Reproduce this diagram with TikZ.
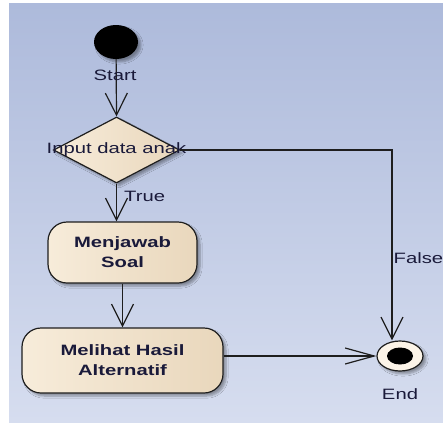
\documentclass[tikz,border=0pt]{standalone}
\usepackage{fontspec}
\setmainfont{Liberation Sans}[FakeStretch=1.35]
\usetikzlibrary{arrows.meta,shapes.geometric,shadows.blur}

\definecolor{bgtop}{HTML}{ADBADB}
\definecolor{bgbot}{HTML}{D6DDEF}
\definecolor{creamL}{HTML}{F7ECDA}
\definecolor{creamM}{HTML}{FCF4E8}
\definecolor{creamR}{HTML}{E9D7BC}
\definecolor{ink}{HTML}{1E1E1E}
\definecolor{txt}{HTML}{1A1A3A}

\tikzset{
  flow/.style={draw=ink, line width=1.2pt},
  vtip/.style={-{Straight Barb[length=22pt,width=22pt,line width=1.2pt]}},
  htip/.style={-{Straight Barb[length=29pt,width=16pt,line width=1.2pt]}},
  softshadow/.style={blur shadow={shadow xshift=3pt, shadow yshift=-3pt,
      shadow blur steps=6, shadow opacity=35}},
  creamfill/.style={left color=creamL, middle color=creamM, right color=creamR},
  action/.style={draw=ink, line width=1.2pt, rounded corners=19pt, creamfill,
      softshadow, inner sep=0pt, align=center, text=txt,
      font=\fontsize{15}{20}\selectfont\bfseries},
  decision/.style={diamond, draw=ink, line width=1.2pt, creamfill, softshadow,
      inner sep=0pt, minimum width=126pt, minimum height=66pt},
  lbl/.style={text=txt, font=\fontsize{15}{18}\selectfont, inner sep=0pt},
}

\begin{document}
\begin{tikzpicture}[x=1pt, y=-1pt]
  \useasboundingbox (0,0) rectangle (443,423);
  % backdrop
  \shade[top color=bgtop, bottom color=bgbot] (9,3) rectangle (443,422);

  % initial node
  \node[ellipse, fill=black, minimum width=44pt, minimum height=34pt,
        inner sep=0pt, softshadow] (start) at (116,42) {};

  % decision
  \node[decision, label={[lbl]center:Input data anak}] (dia) at (116.5,150) {};

  % actions
  \node[action, minimum width=149pt, minimum height=61pt] (jawab) at (122.5,252.5)
       {Menjawab\\Soal};
  \node[action, minimum width=201pt, minimum height=65pt] (hasil) at (122.5,360.5)
       {Melihat Hasil\\Alternatif};

  % final node
  \node[ellipse, draw=ink, line width=1.2pt, fill=creamM, softshadow,
        minimum width=46pt, minimum height=30pt, inner sep=0pt,
        path picture={\fill[black] (path picture bounding box.center)
                      ellipse [x radius=13pt, y radius=8.5pt];}] (end) at (400,356) {};

  \coordinate (fc) at (392,150);

  % connectors
  \draw[flow, vtip] (start) -- (dia.north);
  \draw[flow, vtip] (dia.south) -- (dia.south |- jawab.north);
  \draw[flow, vtip] (jawab.south) -- (hasil.north);
  \draw[flow, vtip] (dia.east) -- (fc) -- (fc |- end.north);
  \draw[flow, htip] (hasil.east |- end.west) -- (end.west);

  % labels
  \node[lbl] at (115,75) {Start};
  \node[lbl, anchor=west] at (124,196) {True};
  \node[lbl, anchor=west] at (393.5,258) {False};
  \node[lbl] at (400,394) {End};
\end{tikzpicture}
\end{document}
